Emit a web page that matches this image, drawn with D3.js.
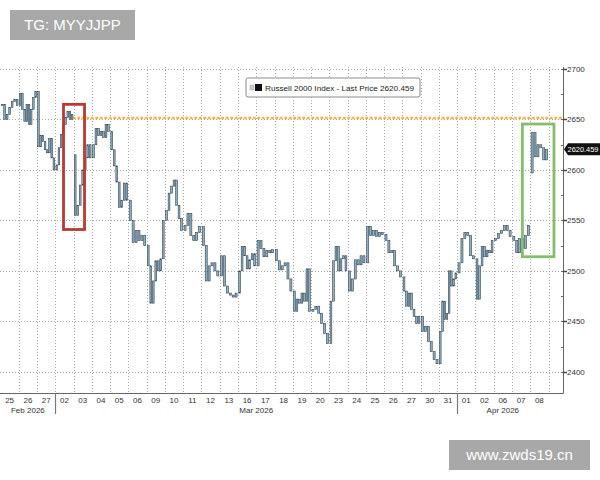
<!DOCTYPE html>
<html>
<head>
<meta charset="UTF-8" />
<title>Russell 2000 Index</title>
<script src="https://d3js.org/d3.v7.min.js"></script>
<style>
	body { margin: 0; background: #fff; }
	svg { display: block; font-family: "Liberation Sans", Arial, sans-serif; }
</style>
</head>
<body>
<div id="main"></div>
<script>
// trading days shown on the x axis
var days = ['25', '26', '27', '02', '03', '04', '05', '06', '09', '10', '11', '12', '13', '16', '17', '18', '19', '20',
	'23', '24', '25', '26', '27', '30', '31', '01', '02', '06', '07', '08'];
var monthLabels = ['Feb 2026', 'Mar 2026', 'Apr 2026'];
var monthStarts = [0, 3, 25];
var yTicks = [2400, 2450, 2500, 2550, 2600, 2650, 2700];

// intraday closes, one list per trading day
var prices = [
	[2665, 2650, 2655, 2662, 2668, 2670, 2664],
	[2676, 2660, 2648, 2665, 2645, 2660, 2672, 2678],
	[2623, 2634, 2628, 2620, 2617, 2631, 2612, 2600],
	[2605, 2622, 2635, 2645, 2652, 2658, 2650, 2655],
	[2555, 2565, 2585, 2600, 2612, 2625, 2612],
	[2625, 2641, 2634, 2638, 2632, 2645, 2638],
	[2620, 2604, 2588, 2563, 2570, 2587, 2570],
	[2550, 2528, 2540, 2530, 2535, 2525],
	[2505, 2468, 2490, 2510, 2500, 2512, 2550],
	[2560, 2577, 2584, 2590, 2565, 2552, 2540],
	[2545, 2557, 2535, 2530, 2538, 2544],
	[2525, 2490, 2505, 2508, 2500, 2495],
	[2515, 2485, 2478, 2476, 2474, 2478],
	[2500, 2524, 2515, 2502, 2511, 2517, 2505],
	[2530, 2522, 2514, 2520, 2518, 2521],
	[2510, 2501, 2505, 2508, 2492, 2480],
	[2460, 2472, 2468, 2478, 2470, 2502, 2460],
	[2462, 2465, 2458, 2448, 2438, 2428],
	[2470, 2510, 2524, 2500, 2512, 2515, 2500],
	[2480, 2492, 2511, 2506, 2515, 2508],
	[2544, 2535, 2540, 2534, 2538, 2536],
	[2530, 2518, 2520, 2505, 2500, 2494],
	[2480, 2465, 2478, 2462, 2455, 2448, 2455],
	[2440, 2445, 2430, 2420, 2412, 2408],
	[2440, 2470, 2452, 2458, 2500, 2485, 2492, 2498],
	[2508, 2532, 2538, 2535, 2515, 2512],
	[2472, 2505, 2524, 2514, 2520, 2518, 2530],
	[2532, 2537, 2540, 2545, 2540, 2534],
	[2530, 2518, 2532, 2522, 2535, 2545],
	[2637, 2613, 2625, 2622, 2610, 2620.459]
];
// opening price of days that gapped away from the prior close (null = opened at prior close)
var dayOpens = [null, null, null, null, 2615, null, null, null, null, null, null, null, null, null, null,
	null, null, null, null, null, null, null, null, null, null, null, null, null, null, 2597];
var lastPrice = 2620.459;
var refLevel = 2651.5;
var refStartDay = 3.95;

// highlight boxes: day position from / to, low and high value
var boxes = [
	{ x0: 3.45, x1: 4.6, lo: 2541, hi: 2665, color: '#b83a33' },
	{ x0: 28.57, x1: 30.3, lo: 2514, hi: 2645.5, color: '#86bd6c' }
];

var width = 600, height = 480;
var plotTop = 67, plotBottom = 393, axisX = 563;

var svg = d3.select('#main').append('svg').attr('width', width).attr('height', height);

var x = d3.scaleBand().domain(d3.range(days.length)).range([0.5, 548.5]).paddingInner(0).paddingOuter(0);
var xPos = d3.scaleLinear().domain([0, days.length]).range([0.5, 548.5]);
var y = d3.scaleLinear().domain([2379, 2702]).range([plotBottom, plotTop]);

// gridlines
var grid = svg.append('g').attr('stroke', '#a8a8a8').attr('stroke-dasharray', '1,2').attr('stroke-width', 1);
grid.selectAll('.vg').data(d3.range(1, days.length + 1)).enter().append('line')
	.attr('x1', d => Math.round(xPos(d)) + 0.5).attr('x2', d => Math.round(xPos(d)) + 0.5)
	.attr('y1', plotTop).attr('y2', plotBottom);
grid.selectAll('.hg').data(yTicks).enter().append('line')
	.attr('x1', 0).attr('x2', axisX)
	.attr('y1', d => Math.round(y(d)) + 0.5).attr('y2', d => Math.round(y(d)) + 0.5);

// reference line at the early-March high
svg.append('line')
	.attr('x1', xPos(refStartDay)).attr('x2', axisX)
	.attr('y1', y(refLevel)).attr('y2', y(refLevel))
	.attr('stroke', '#f3b04a').attr('stroke-width', 2.5).attr('stroke-dasharray', '3,1.5');
svg.append('line')
	.attr('x1', xPos(refStartDay)).attr('x2', axisX)
	.attr('y1', y(refLevel)).attr('y2', y(refLevel))
	.attr('stroke', '#fbe3a8').attr('stroke-width', 1).attr('stroke-dasharray', '1,3.5');

// candles: each bar runs from the previous close to its own close
var bars = [];
var prev = prices[0][0];
prices.forEach(function (dayVals, i) {
	if (dayOpens[i] !== null) prev = dayOpens[i];
	var inner = d3.scaleBand().domain(d3.range(dayVals.length)).range([x(i), x(i) + x.bandwidth()]).padding(0.3);
	dayVals.forEach(function (v, j) {
		bars.push({ x: inner(j), w: inner.bandwidth(), o: prev, c: v });
		prev = v;
	});
});
svg.append('g').selectAll('rect').data(bars).enter().append('rect')
	.attr('x', d => d.x)
	.attr('width', d => Math.max(1, d.w))
	.attr('y', d => y(Math.max(d.o, d.c)))
	.attr('height', d => Math.max(1, Math.abs(y(d.o) - y(d.c))))
	.attr('fill', '#8fb0c6')
	.attr('stroke', '#33444f')
	.attr('stroke-width', 0.6);

// highlight boxes
svg.append('g').selectAll('rect').data(boxes).enter().append('rect')
	.attr('x', d => xPos(d.x0)).attr('width', d => xPos(d.x1) - xPos(d.x0))
	.attr('y', d => y(d.hi)).attr('height', d => y(d.lo) - y(d.hi))
	.attr('fill', 'none').attr('stroke', d => d.color).attr('stroke-width', 2.8);

// axes lines
svg.append('line').attr('x1', axisX + 0.5).attr('x2', axisX + 0.5).attr('y1', plotTop).attr('y2', plotBottom + 0.5)
	.attr('stroke', '#666').attr('stroke-width', 1);
svg.append('line').attr('x1', 0).attr('x2', axisX + 0.5).attr('y1', plotBottom + 0.5).attr('y2', plotBottom + 0.5)
	.attr('stroke', '#666').attr('stroke-width', 1);

// right axis ticks and labels
var yAxis = svg.append('g');
yAxis.selectAll('.minor').data(d3.range(2400, 2701, 25)).enter().append('line')
	.attr('x1', axisX - 2).attr('x2', axisX + 1)
	.attr('y1', d => Math.round(y(d)) + 0.5).attr('y2', d => Math.round(y(d)) + 0.5)
	.attr('stroke', '#666');
yAxis.selectAll('.major').data(yTicks).enter().append('line')
	.attr('x1', axisX).attr('x2', axisX + 4)
	.attr('y1', d => Math.round(y(d)) + 0.5).attr('y2', d => Math.round(y(d)) + 0.5)
	.attr('stroke', '#444').attr('stroke-width', 1.5);
yAxis.selectAll('text').data(yTicks).enter().append('text')
	.attr('x', axisX + 4).attr('y', d => y(d)).attr('dy', '0.35em')
	.attr('font-size', 8).attr('fill', '#333').text(d => d);

// last price tag
var tagY = y(lastPrice);
svg.append('path')
	.attr('d', 'M' + (axisX + 1) + ',' + tagY + 'L' + (axisX + 5) + ',' + (tagY - 6) + 'H600V' + (tagY + 6) + 'H' + (axisX + 5) + 'Z')
	.attr('fill', '#111');
svg.append('text').attr('x', axisX + 4.5).attr('y', tagY).attr('dy', '0.35em')
	.attr('font-size', 7.5).attr('fill', '#fff')
	.attr('textLength', 31).attr('lengthAdjust', 'spacingAndGlyphs')
	.text(d3.format('.3f')(lastPrice));

// x axis labels
svg.append('g').selectAll('text').data(days).enter().append('text')
	.attr('x', (d, i) => x(i) + x.bandwidth() / 2).attr('y', 403)
	.attr('text-anchor', 'middle').attr('font-size', 8).attr('fill', '#333').text(d => d);

var monthEnds = monthStarts.slice(1).concat([days.length]);
svg.append('g').selectAll('text').data(monthLabels).enter().append('text')
	.attr('x', (d, i) => (xPos(monthStarts[i]) + xPos(monthEnds[i])) / 2).attr('y', 412.5)
	.attr('text-anchor', 'middle').attr('font-size', 8).attr('fill', '#333').text(d => d);
svg.append('g').selectAll('line').data(monthStarts.slice(1)).enter().append('line')
	.attr('x1', d => Math.round(xPos(d)) + 0.5).attr('x2', d => Math.round(xPos(d)) + 0.5)
	.attr('y1', plotBottom).attr('y2', 414)
	.attr('stroke', '#777').attr('stroke-width', 1.2);

// legend
var lg = svg.append('g').attr('transform', 'translate(246,78)');
lg.append('rect').attr('width', 174).attr('height', 19).attr('rx', 2)
	.attr('fill', '#fff').attr('stroke', '#8a8a8a').attr('stroke-width', 1);
lg.append('rect').attr('x', 4).attr('y', 7).attr('width', 4).attr('height', 5).attr('fill', '#ccc').attr('stroke', '#aaa').attr('stroke-width', 0.5);
lg.append('rect').attr('x', 9).attr('y', 6).attr('width', 7).attr('height', 7).attr('fill', '#111');
lg.append('text').attr('x', 19).attr('y', 12.5).attr('font-size', 8).attr('fill', '#222')
	.attr('textLength', 149).attr('lengthAdjust', 'spacingAndGlyphs')
	.text('Russell 2000 Index - Last Price ' + d3.format('.3f')(lastPrice));

// watermarks
var wm = [{ t: 'TG: MYYJJPP', x: 10, y: 10, w: 125 }, { t: 'www.zwds19.cn', x: 449, y: 440, w: 141 }];
wm.forEach(function (m) {
	svg.append('rect').attr('x', m.x).attr('y', m.y).attr('width', m.w).attr('height', 30).attr('fill', '#a8a8a8');
	svg.append('text').attr('x', m.x + m.w / 2).attr('y', m.y + 15).attr('dy', '0.35em')
		.attr('text-anchor', 'middle').attr('font-size', 15).attr('fill', '#fff')
		.style('font-family', 'Helvetica, "Liberation Sans", Arial, sans-serif').text(m.t);
});
</script>
</body>
</html>
